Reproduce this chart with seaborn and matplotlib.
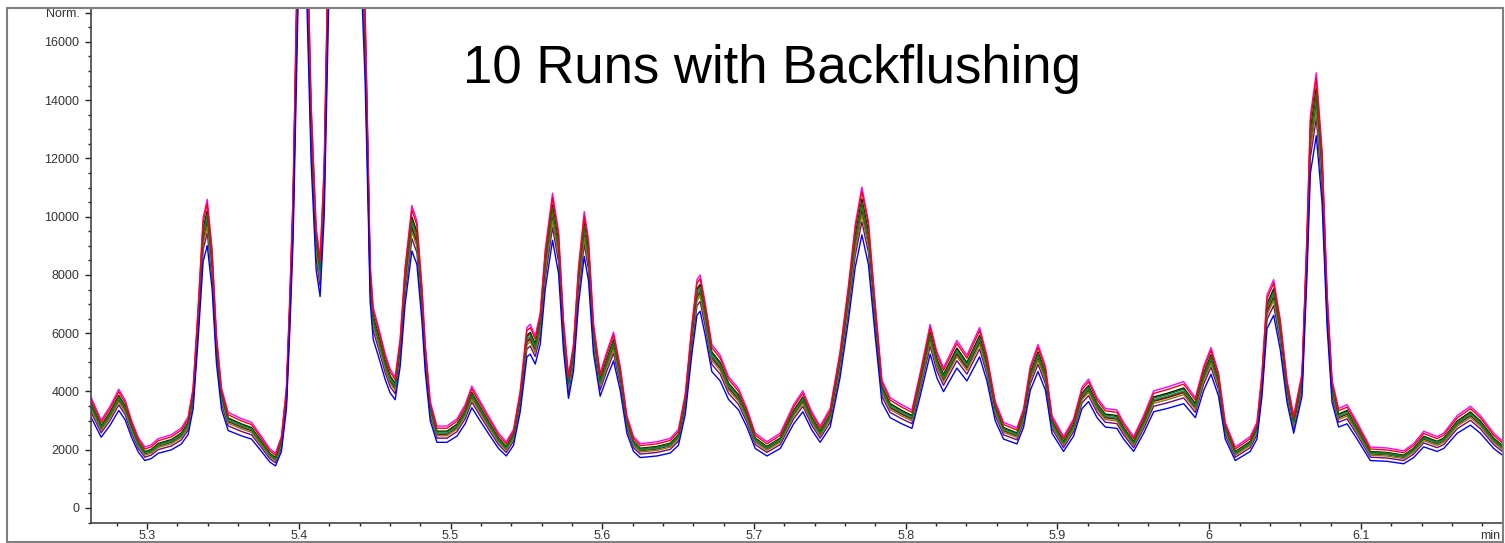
import numpy as np
import pandas as pd
import matplotlib
matplotlib.use("Agg")
import matplotlib.pyplot as plt
from matplotlib.patches import Rectangle
from matplotlib.ticker import MultipleLocator, FixedLocator
import seaborn as sns

# ---- data (typical run) ----
time_min = [5.263, 5.2697, 5.2756, 5.2813, 5.2855, 5.2897, 5.2941, 5.2985, 5.3026, 5.3073,
            5.316, 5.3226, 5.327, 5.3303, 5.3336, 5.3369, 5.3396, 5.3428, 5.3457, 5.349,
            5.3534, 5.3622, 5.3688, 5.3754, 5.3809, 5.3846, 5.3885, 5.3918, 5.394, 5.3962,
            5.3989, 5.4015, 5.4048, 5.4081, 5.4114, 5.414, 5.4167, 5.4193, 5.424, 5.4305,
            5.4371, 5.4417, 5.4437, 5.4457, 5.447, 5.449, 5.4523, 5.4569, 5.4602, 5.4635,
            5.4668, 5.47, 5.4745, 5.4778, 5.4811, 5.4833, 5.4866, 5.491, 5.4976, 5.5042,
            5.5096, 5.514, 5.5195, 5.5261, 5.5316, 5.5367, 5.5415, 5.5459, 5.5503, 5.5525,
            5.5558, 5.5591, 5.5624, 5.5672, 5.5712, 5.5744, 5.5777, 5.581, 5.5843, 5.5881,
            5.5909, 5.5942, 5.5986, 5.603, 5.6074, 5.6118, 5.6162, 5.6206, 5.625, 5.636,
            5.6448, 5.6502, 5.6547, 5.6591, 5.6624, 5.6645, 5.6678, 5.6722, 5.6777, 5.6832,
            5.6898, 5.6953, 5.7008, 5.7085, 5.7173, 5.7261, 5.7322, 5.7381, 5.7436, 5.7502,
            5.7567, 5.7623, 5.7667, 5.7711, 5.7754, 5.7798, 5.7843, 5.7897, 5.7974, 5.8041,
            5.8095, 5.8161, 5.8205, 5.8249, 5.8337, 5.8403, 5.8487, 5.8535, 5.859, 5.8645,
            5.8733, 5.8777, 5.8821, 5.8872, 5.8921, 5.8964, 5.904, 5.9106, 5.9162, 5.9205,
            5.9261, 5.9315, 5.9392, 5.9436, 5.9502, 5.9568, 5.9634, 5.9722, 5.9832, 5.9909,
            5.9964, 6.0012, 6.0062, 6.0106, 6.0172, 6.0271, 6.0315, 6.0348, 6.0381, 6.0425,
            6.0469, 6.0513, 6.0557, 6.0612, 6.0645, 6.0667, 6.0706, 6.0744, 6.0777, 6.081,
            6.0853, 6.0909, 6.0975, 6.1062, 6.1172, 6.1282, 6.1348, 6.1414, 6.1502, 6.1546,
            6.1635, 6.1722, 6.1787, 6.1875, 6.194]
signal = [3500, 2750, 3200, 3750, 3400, 2750, 2200, 1880, 1950, 2150,
          2280, 2500, 2850, 3800, 6400, 9300, 9900, 8300, 5500, 3800,
          3000, 2800, 2680, 2220, 1820, 1680, 2220, 3800, 6700, 10100,
          17500, 24000, 20000, 13000, 9000, 8000, 11000, 18000, 30000, 35000,
          28000, 19000, 16000, 11200, 7800, 6400, 5800, 4900, 4400, 4150,
          5400, 7700, 9700, 9200, 7100, 5200, 3360, 2560, 2560, 2790,
          3250, 3850, 3360, 2790, 2330, 2050, 2450, 3700, 5750, 5850,
          5480, 6220, 8280, 10100, 8850, 6000, 4200, 5200, 7700, 9500,
          8600, 5880, 4280, 4970, 5600, 4500, 2900, 2220, 1990, 2050,
          2160, 2450, 3600, 5880, 7300, 7450, 6560, 5200, 4850, 4160,
          3770, 3130, 2330, 2050, 2330, 3250, 3700, 3020, 2560, 3130,
          4970, 7140, 9090, 10300, 9200, 6570, 4050, 3480, 3250, 3080,
          4280, 5850, 4970, 4450, 5330, 4850, 5750, 4850, 3360, 2680,
          2500, 3130, 4500, 5200, 4500, 2900, 2220, 2790, 3820, 4080,
          3480, 3130, 3080, 2680, 2220, 2900, 3700, 3820, 4000, 3480,
          4500, 5100, 4280, 2680, 1880, 2220, 2680, 4280, 6800, 7300,
          6000, 4050, 2900, 4280, 8860, 12600, 14000, 11500, 6900, 4050,
          3130, 3250, 2680, 1880, 1850, 1760, 1990, 2390, 2220, 2330,
          2900, 3200, 2900, 2330, 2050]

run_names = ["Run 1", "Run 2", "Run 3", "Run 4", "Run 5",
             "Run 6", "Run 7", "Run 8", "Run 9", "Run 10"]
run_colors = ["#556b2f", "#8b0000", "#800080", "#808000", "#2e7d6b",
              "#000000", "#008000", "#ff00ff", "#ff0000", "#0000ff"]
run_scale = [1.00, 0.99, 0.96, 0.98, 1.01, 1.03, 1.02, 1.06, 1.05, 0.92]
run_offset = [-10, 0, -60, -30, -20, 0, 0, 100, 50, -100]

y_ticks = [0, 2000, 4000, 6000, 8000, 10000, 12000, 14000, 16000, 17000]
y_tick_labels = ["0", "2000", "4000", "6000", "8000", "10000", "12000", "14000", "16000", "Norm."]
x_ticks = [5.3, 5.4, 5.5, 5.6, 5.7, 5.8, 5.9, 6.0, 6.1]
x_tick_labels = ["5.3", "5.4", "5.5", "5.6", "5.7", "5.8", "5.9", "6", "6.1"]
title_text = "10 Runs with Backflushing"

# ---- build long table ----
frames = []
for name, sc, off in zip(run_names, run_scale, run_offset):
    frames.append(pd.DataFrame({"time": time_min,
                                "signal": np.array(signal, dtype=float) * sc + off,
                                "run": name}))
df = pd.concat(frames, ignore_index=True)

sns.set_theme(style="ticks")
plt.rcParams["font.family"] = ["Liberation Sans", "DejaVu Sans"]

W, H = 1505, 543
fig = plt.figure(figsize=(W / 100, H / 100), dpi=100)
ax = fig.add_axes([91 / W, 1 - 523 / H, (1502 - 91) / W, (523 - 8) / H])

sns.lineplot(data=df, x="time", y="signal", hue="run", hue_order=run_names,
             palette=dict(zip(run_names, run_colors)), sort=False, estimator=None,
             legend=False, linewidth=1.0, ax=ax)

ax.set_xlim(5.263, 6.193)
ax.set_ylim(-515, 17165)
ax.set_xlabel("")
ax.set_ylabel("")

ax.yaxis.set_major_locator(FixedLocator(y_ticks))
ax.set_yticklabels(y_tick_labels)
ax.yaxis.set_minor_locator(MultipleLocator(500))
ax.xaxis.set_major_locator(FixedLocator(x_ticks))
ax.set_xticklabels(x_tick_labels)
ax.xaxis.set_minor_locator(MultipleLocator(0.02))

ax.tick_params(axis="both", which="major", direction="out", length=4.3, width=1,
               color="#222222", labelsize=9, labelcolor="#333333")
ax.tick_params(axis="x", which="major", pad=0.5)
ax.tick_params(axis="y", which="major", pad=4)
ax.tick_params(axis="both", which="minor", direction="out", length=2.3, width=1,
               color="#222222")

for s in ["left", "bottom"]:
    ax.spines[s].set_color("#444444")
    ax.spines[s].set_linewidth(1.2)
ax.spines["top"].set_color("#808080")
ax.spines["top"].set_linewidth(1.2)
ax.spines["right"].set_visible(False)

ax.annotate("min", xy=(1, 0), xycoords="axes fraction", xytext=(-1, -4.8),
            textcoords="offset points", ha="right", va="top",
            fontsize=9, color="#333333")

fig.text(771.5 / W, 1 - 83 / H, title_text, ha="center", va="baseline",
         fontsize=38, color="black")

fig.patches.append(Rectangle((7 / W, 1 / H), (1503 - 7) / W, (542 - 8) / H,
                             transform=fig.transFigure, fill=False,
                             edgecolor="#808080", linewidth=1.5, zorder=0))

fig.savefig("out.png", dpi=100)
